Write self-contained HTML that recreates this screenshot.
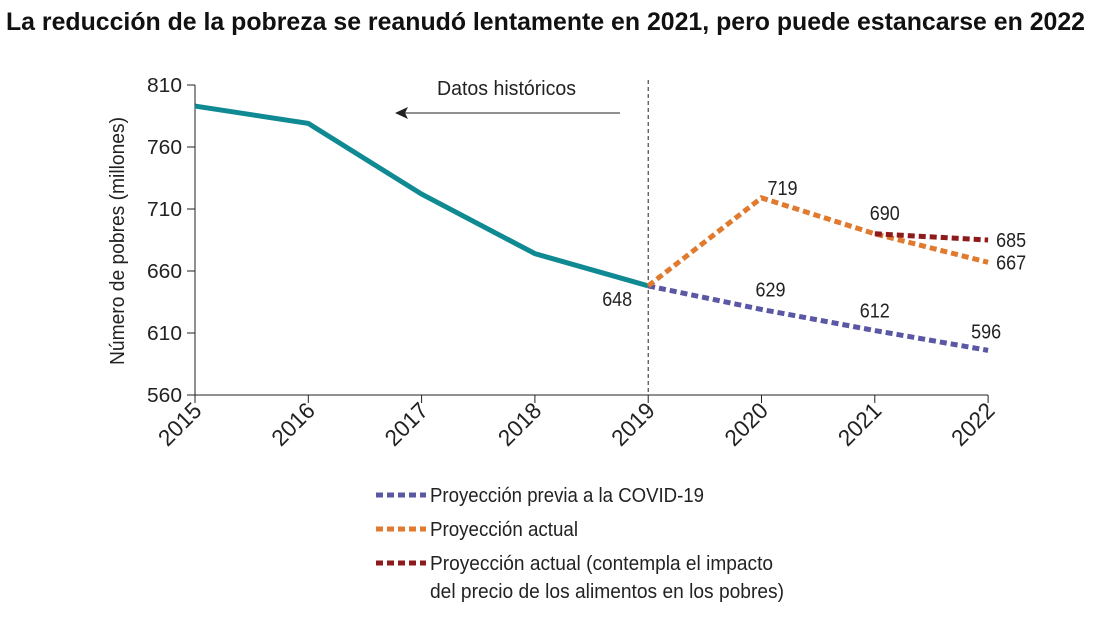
<!DOCTYPE html>
<html><head><meta charset="utf-8"><style>
body{margin:0;background:#fff;width:1096px;height:614px;overflow:hidden;font-family:"Liberation Sans",sans-serif;}
svg text{font-family:"Liberation Sans",sans-serif;}
</style></head><body>
<svg id="c" width="1096" height="614">
<text x="6" y="30" font-size="25" font-weight="bold" fill="#111" textLength="1079" lengthAdjust="spacingAndGlyphs">La reducción de la pobreza se reanudó lentamente en 2021, pero puede estancarse en 2022</text>
</svg>
<script>
const years=[2015,2016,2017,2018,2019,2020,2021,2022];
const yTicks=[560,610,660,710,760,810];
const histYears=[2015,2016,2017,2018,2019];
const histVals=[793,779,722,674,648];
const prevYears=[2019,2020,2021,2022];
const prevVals=[648,629,612,596];
const actYears=[2019,2020,2021,2022];
const actVals=[648,719,690,667];
const foodYears=[2021,2022];
const foodVals=[690,685];
const NS='http://www.w3.org/2000/svg';
const svg=document.getElementById('c');
const X=y=>195+(y-2015)*113.3;
const Y=v=>395-(v-560)*1.24;
function mk(t,a,p){const e=document.createElementNS(NS,t);for(const k in a)e.setAttribute(k,a[k]);(p||svg).appendChild(e);return e;}
let e;
e=mk('line',{x1:195,y1:85,x2:195,y2:395,stroke:'#222','stroke-width':1});


e=mk('line',{x1:195,y1:395,x2:988,y2:395,stroke:'#222','stroke-width':1});


yTicks.forEach(v=>{
 e=mk('line',{x1:187,y1:Y(v),x2:195,y2:Y(v),stroke:'#222'});
 
 
 e=mk('text',{x:182,y:Y(v)+7,'text-anchor':'end','font-size':20,fill:'#222',textLength:35,lengthAdjust:'spacingAndGlyphs'});e.textContent=v;
 
 
});
years.forEach(y=>{
 e=mk('line',{x1:X(y),y1:395,x2:X(y),y2:403,stroke:'#222'});
 
 
 e=mk('text',{x:X(y)+8,y:412,'text-anchor':'end','font-size':23,fill:'#222',textLength:50,lengthAdjust:'spacingAndGlyphs',transform:`rotate(-45 ${X(y)+8} 412)`});e.textContent=y;
 
 
});
e=mk('text',{x:0,y:0,'text-anchor':'middle','font-size':20,fill:'#222',textLength:248,lengthAdjust:'spacingAndGlyphs',transform:'translate(124 241) rotate(-90)'});e.textContent='Número de pobres (millones)';


e=mk('line',{x1:X(2019),y1:80,x2:X(2019),y2:395,stroke:'#222','stroke-dasharray':'4 3'});


e=mk('text',{x:437,y:95,'font-size':20,fill:'#222',textLength:139,lengthAdjust:'spacingAndGlyphs'});e.textContent='Datos históricos';


e=mk('line',{x1:620,y1:113,x2:402,y2:113,stroke:'#222'});


e=mk('path',{d:'M395 113 L408 107 L405 113 L408 119Z',fill:'#222'});


function line(xs,vs,col,dash,name){
 const p=xs.map((x,i)=>(i?'L':'M')+X(x)+' '+Y(vs[i])).join(' ');
 const el=mk('path',{d:p,fill:'none',stroke:col,'stroke-width':5,'stroke-dasharray':dash});
 
 
}
line(histYears,histVals,'#0f8a93','', 'historic-line');
line(prevYears,prevVals,'#5a57a5','7 4','pre-covid-line');
line(actYears,actVals,'#e07a2f','7 4','current-line');
line(foodYears,foodVals,'#8e1b1b','7 4','food-price-line');
function lab(x,y,t,name){e=mk('text',{x:x,y:y,'font-size':20,fill:'#222',textLength:30,lengthAdjust:'spacingAndGlyphs'});e.textContent=t;
 
 }
lab(X(2019)-46,Y(prevVals[0])+20,prevVals[0],'label-648');
lab(X(2020)+6,Y(actVals[1])-3,actVals[1],'label-719');
lab(X(2021)-5,Y(actVals[2])-14,actVals[2],'label-690');
lab(X(2022)+8,Y(actVals[3])+7,actVals[3],'label-667');
lab(X(2022)+8,Y(foodVals[1])+7,foodVals[1],'label-685');
lab(X(2020)-6,Y(prevVals[1])-13,prevVals[1],'label-629');
lab(X(2021)-15,Y(prevVals[2])-13,prevVals[2],'label-612');
lab(X(2022)-17,Y(prevVals[3])-12,prevVals[3],'label-596');
const leg=[['#5a57a5',[['Proyección previa a la COVID-19',274]]],['#e07a2f',[['Proyección actual',148]]],['#8e1b1b',[['Proyección actual (contempla el impacto',343],['del precio de los alimentos en los pobres)',354]]]];
leg.forEach((l,i)=>{const y=495+i*34;
 e=mk('line',{x1:376,y1:y,x2:426,y2:y,stroke:l[0],'stroke-width':5,'stroke-dasharray':'7 4'});
 
 
 l[1].forEach((t,j)=>{e=mk('text',{x:430,y:y+7+j*28,'font-size':20,fill:'#222',textLength:t[1],lengthAdjust:'spacingAndGlyphs'});e.textContent=t[0];
 
 });
});
</script>
</body></html>
